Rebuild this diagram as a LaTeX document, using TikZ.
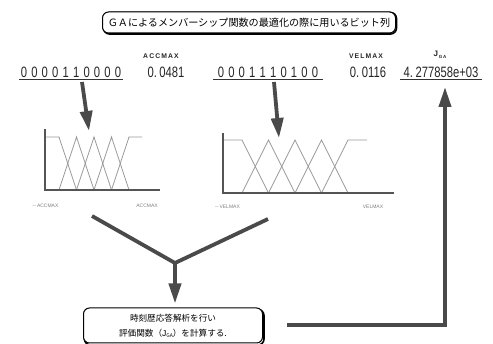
\documentclass[tikz,border=0pt]{standalone}
\usepackage{fontspec}
\setmainfont{Liberation Sans}
\newfontfamily\jp{Noto Sans CJK JP}
\newfontfamily\narrow[FakeStretch=0.75]{Liberation Sans}
\usetikzlibrary{arrows.meta}
\newcommand\bsp{\hspace{4.2pt}}
\definecolor{arrowgray}{HTML}{4A4A4A}
\definecolor{mfgray}{HTML}{9A9A9A}
\definecolor{axisgray}{HTML}{555555}
\tikzset{
  bigarrow/.style={draw=arrowgray, line width=3.8pt, line join=miter,
    -{Triangle[length=20pt,width=12pt]}},
  bigline/.style={draw=arrowgray, line width=3.8pt, line join=miter},
  numtxt/.style={font=\narrow\fontsize{15}{15}\selectfont, inner sep=1pt, text=black!85},
  lbltxt/.style={font=\bfseries\fontsize{6.8}{7}\selectfont, inner sep=0pt, text=black!85},
  axlbl/.style={font=\fontsize{5}{5}\selectfont, inner sep=0pt, text=black!50},
  uline/.style={draw=black!80, line width=1.3pt},
  mf/.style={draw=mfgray, line width=0.8pt},
  ax/.style={draw=axisgray, line width=1.1pt},
  rbox/.style={draw=black, line width=1pt, rounded corners=6pt, fill=white},
  shadowbox/.style={draw=black, line width=1.6pt, rounded corners=6pt},
}
\begin{document}
\begin{tikzpicture}[x=1pt,y=-1pt]
\useasboundingbox (0,0) rectangle (493,344);
\fill[white] (0,0) rectangle (493,344);

% title box
\draw[shadowbox] (103.5,12.5) rectangle (396.5,34);
\node[rbox, minimum width=293pt, minimum height=21pt, inner sep=0pt,
  font=\jp\fontsize{10.1}{11}\selectfont] (title) at (249,22.5)
  {ＧＡによるメンバーシップ関数の最適化の際に用いるビット列};

% labels
\node[lbltxt] (accl) at (161,56) {A\,C\,C\,M\,A\,X};
\node[lbltxt] (vell) at (366,56) {V\,E\,L\,M\,A\,X};
\node[lbltxt, font=\bfseries\fontsize{8}{8}\selectfont] (jl) at (440,55) {J\raisebox{-1.5pt}{\fontsize{4.5}{4.5}\selectfont\,G\,A}};

% numbers
\node[numtxt] (bits1) at (71,72) {0\bsp0\bsp0\bsp0\bsp1\bsp1\bsp0\bsp0\bsp0\bsp0};
\node[numtxt] (acc) at (166,72) {0.\,0481};
\node[numtxt] (bits2) at (268,72) {0\bsp0\bsp0\bsp1\bsp1\bsp1\bsp0\bsp1\bsp0\bsp0};
\node[numtxt] (vel) at (368,72) {0.\,0116};
\node[numtxt] (jval) at (441,72) {4.\,277858e+03};
\draw[uline] (19,79.5) -- (123,79.5);
\draw[uline] (213,79.5) -- (323,79.5);
\draw[uline] (400,79.5) -- (482,79.5);

% chart 1
\draw[mf] (45,137) -- (59,137) -- (76.5,190);
\draw[mf] (59,190) -- (76.5,137) -- (94,190);
\draw[mf] (76.5,190) -- (94,137) -- (111.5,190);
\draw[mf] (94,190) -- (111.5,137) -- (129,190);
\draw[mf] (111.5,190) -- (129,137) -- (142,137);
\draw[ax] (45,129) -- (45,190) -- (160,190);
\node[axlbl] (c1l) at (45,206) {$-$ACCMAX};
\node[axlbl] (c1r) at (147,206) {ACCMAX};

% chart 2
\draw[mf] (223,140) -- (242,140) -- (268.5,193);
\draw[mf] (242,193) -- (268.5,140) -- (295,193);
\draw[mf] (268.5,193) -- (295,140) -- (321.5,193);
\draw[mf] (295,193) -- (321.5,140) -- (348,193);
\draw[mf] (321.5,193) -- (348,140) -- (367,140);
\draw[ax] (223,133) -- (223,193) -- (394,193);
\node[axlbl] (c2l) at (227,207) {$-$VELMAX};
\node[axlbl] (c2r) at (373,207) {VELMAX};

% arrows to charts
\coordinate (a1s) at (82,82);
\coordinate (a1e) at (89,131);
\coordinate (a2s) at (274,82);
\coordinate (a2e) at (279,138);
\draw[bigarrow] (a1s) -- (a1e);
\draw[bigarrow] (a2s) -- (a2e);

% evaluation box
\draw[shadowbox] (84.5,309.5) rectangle (264,345);
\node[rbox, minimum width=179pt, minimum height=35pt, inner sep=0pt,
  font=\jp\fontsize{8.6}{15}\selectfont, align=center] (eval) at (173,325.5)
  {時刻歴応答解析を行い\\評価関数（{\fontspec{Liberation Sans}J}\raisebox{-1pt}{\fontsize{5}{5}\selectfont GA}）を計算する.};

% Y-shaped arrow
\coordinate (yl) at (92,216);
\coordinate (yr) at (268,219);
\coordinate (yj) at (175,263);
\draw[bigline] (yl) -- (yj) -- (yr);
\draw[bigarrow, shorten >=4pt] (yj) -- (yj |- eval.north);

% return arrow
\coordinate (r0) at (287,325);
\coordinate (r1) at (445,325);
\coordinate (r2) at (445,87);
\draw[bigarrow] (r0) -- (r1) -- (r2);
\end{tikzpicture}
\end{document}
